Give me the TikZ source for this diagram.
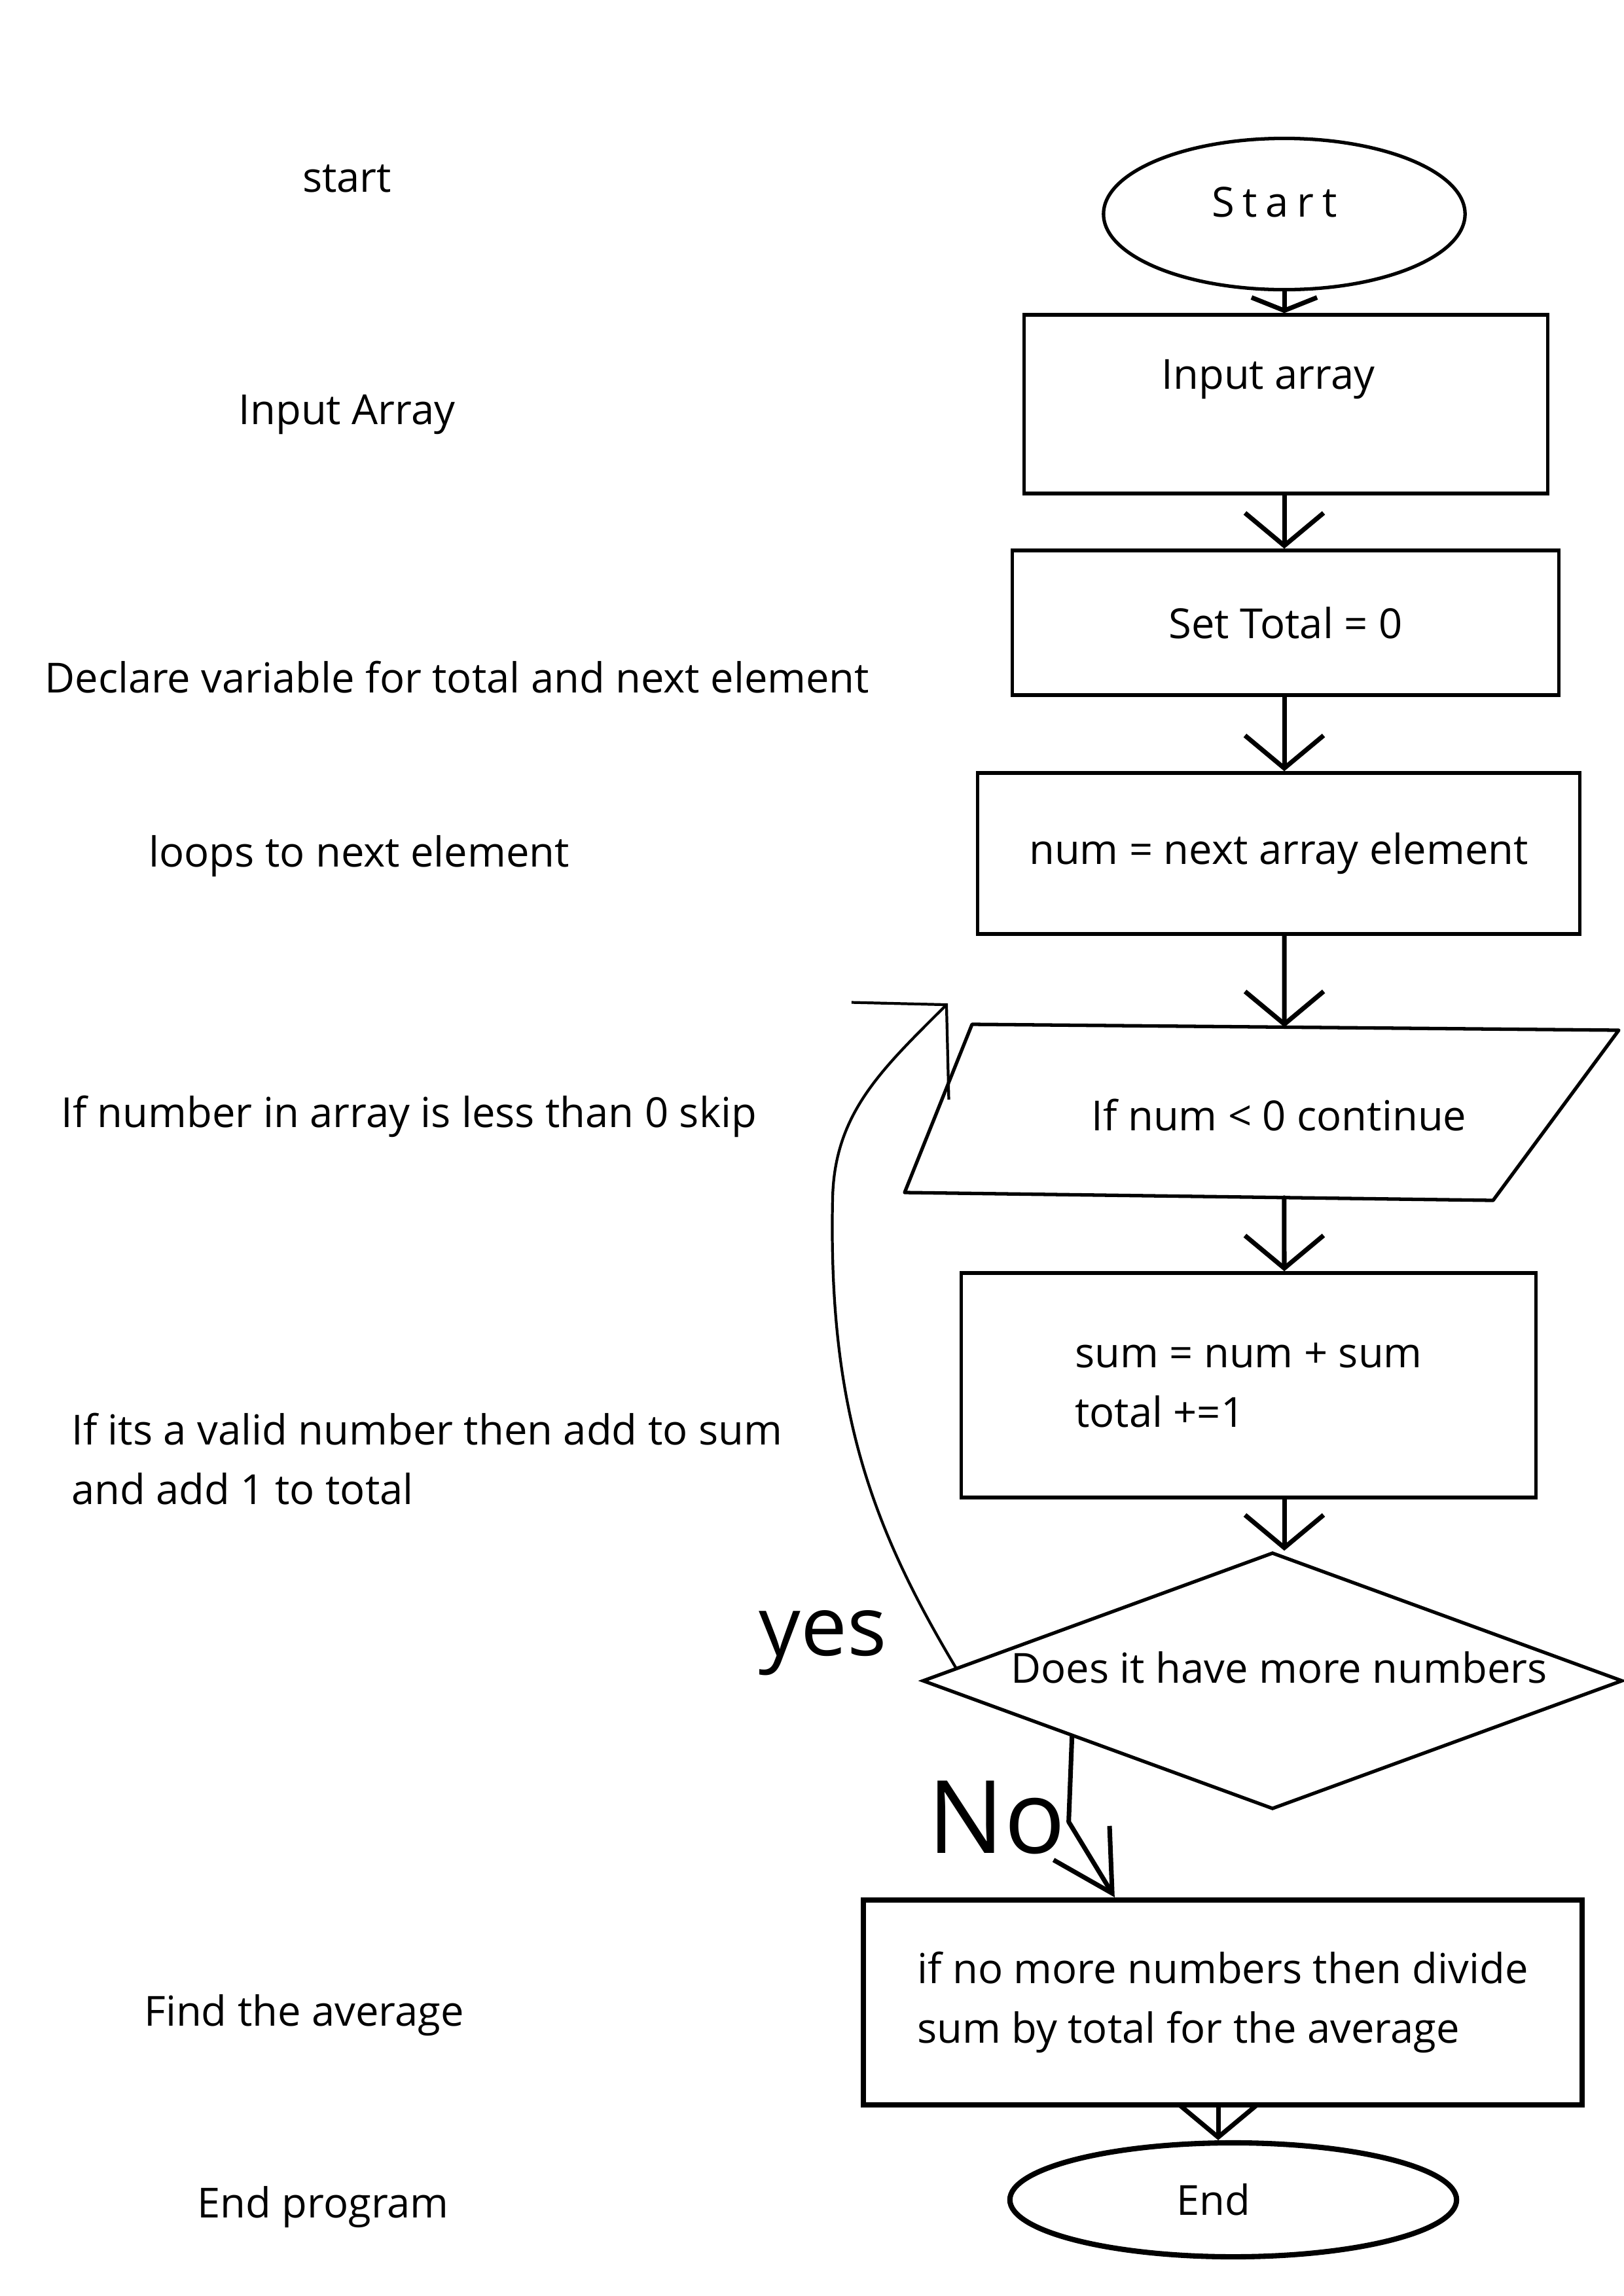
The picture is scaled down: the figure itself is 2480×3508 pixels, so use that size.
\documentclass[tikz,border=0pt]{standalone}
\usepackage{fontspec}
\setmainfont{Open Sans}
\usetikzlibrary{shapes.geometric, arrows.meta, calc}

\tikzset{
  every node/.style={font=\fontsize{18}{26}\selectfont},
  box/.style={draw, line width=1.5pt, inner sep=0pt},
  thickbox/.style={draw, line width=2.3pt, inner sep=0pt},
  note/.style={anchor=west, align=left, xshift=-0.13cm},
  flow/.style={line width=2pt, line cap=round,
    -{Straight Barb[length=5mm, width=12mm, line width=2pt]}},
  scrawl/.style={font=\fontsize{44}{44}\selectfont}
}

\begin{document}
\begin{tikzpicture}[x=0.01cm, y=-0.01cm]
  \fill[white] (0,0) rectangle (2480,3508);
  \useasboundingbox (0,0) rectangle (2480,3508);

  % notes on the left
  \node (n1) at (530,273) {start};
  \node (n2) at (530,633) {Input Array};
  \node[note] (n3) at (69,1035) {Declare variable for total and next element};
  \node[note] (n4) at (228,1308) {loops to next element};
  \node[note] (n5) at (94,1706) {If number in array is less than 0 skip};
  \node[note] (n6) at (110,2229) {If its a valid number then add to sum\\and add 1 to total};
  \node[note] (n7) at (221,3079) {Find the average};
  \node[note] (n8) at (302,3372) {End program};

  % flow chart
  \node[box, ellipse, minimum width=5.52cm, minimum height=2.31cm,
    label={[yshift=0.18cm, xshift=-0.15cm]center:\addfontfeature{LetterSpace=20}Start}] (startn) at (1962,327) {};
  \node[box, minimum width=7.99cm, minimum height=2.73cm,
    label={[xshift=-0.27cm, yshift=0.38cm]center:Input array}] (inb) at (1964.5,617.5) {};
  \node[box, minimum width=8.34cm, minimum height=2.21cm] (setb) at (1964,951.5) {Set Total = 0};
  \node[box, minimum width=9.19cm, minimum height=2.46cm] (numb) at (1953.5,1304) {num = next array element};
  % parallelogram
  \coordinate (p1) at (1485,1565);
  \coordinate (p2) at (2473,1574);
  \coordinate (p3) at (2281,1834);
  \coordinate (p4) at (1382,1822);
  \draw[line width=1.5pt, line join=round] (p1) -- (p2) -- (p3) -- (p4) -- cycle;
  \node (cond) at (1954,1704) {If num < 0 continue};
  \coordinate (ptop) at ($(p1)!0.483!(p2)$);
  \coordinate (pbot) at ($(p4)!0.645!(p3)$);
  \node[box, align=left, minimum width=8.77cm, minimum height=3.43cm] (sumb) at (1907.5,2116.5)
    {sum = num + sum\\total +=1};
  \node[box, diamond, aspect=2.73, minimum width=10.69cm, minimum height=3.92cm,
    label={[yshift=0.2cm, xshift=0.1cm]center:Does it have more numbers}] (dec) at (1944,2568) {};
  \node[thickbox, align=left, minimum width=10.98cm, minimum height=3.13cm] (finb) at (1868,3059.5)
    {if no more numbers then divide\\sum by total for the average};
  \node[thickbox, ellipse, minimum width=6.82cm, minimum height=1.74cm,
    label={[xshift=-0.3cm]center:End}] (endn) at (1884,3361) {};

  \coordinate (axis) at (1962,0);
  \coordinate (axis2) at (1861,0);
  \draw[line width=2pt, line cap=round, -{Straight Barb[length=2mm, width=10mm, line width=2pt]}]
    (startn.south -| axis) -- (inb.north -| axis);
  \draw[flow] (inb.south -| axis) -- (setb.north -| axis);
  \draw[flow] (setb.south -| axis) -- (numb.north -| axis);
  \draw[flow] (numb.south -| axis) -- (ptop);
  \draw[flow] (pbot) -- (sumb.north -| axis);
  \draw[flow] (sumb.south -| axis) -- (dec.north -| axis);
  \draw[flow] (finb.south -| axis2) -- (endn.north -| axis2);

  % no
  \coordinate (nofrom) at ($(dec.west)!0.43!(dec.south)$);
  \draw[line width=2pt, line cap=round, line join=round,
    -{Straight Barb[length=9mm, width=10mm, line width=2pt]}]
    (nofrom) -- ++(-5,130) -- ([xshift=3.88cm]finb.north west);
  \node[scrawl] (nolab) at (1523,2777) {No};

  % yes
  \coordinate (loopend) at (1448,1533);
  \draw[line width=1.2pt, line cap=round,
    -{Straight Barb[length=10mm, width=21mm, line width=1.2pt]}]
    ($(dec.west)!0.1!(dec.north)$) .. controls (1330,2330) and (1265,2150) .. (1272,1830)
    .. controls (1275,1700) and (1348,1633) .. (loopend);
  \node[scrawl, font=\fontsize{36}{36}\selectfont] (yeslab) at (1257,2510) {yes};
\end{tikzpicture}
\end{document}
